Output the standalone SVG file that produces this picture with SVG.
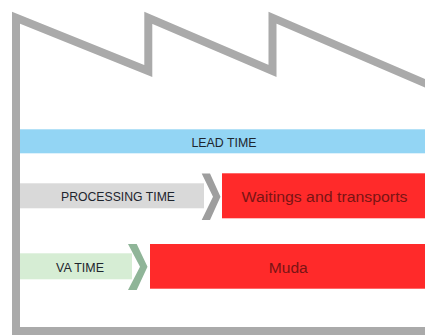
<svg xmlns="http://www.w3.org/2000/svg" width="425" height="335" viewBox="0 0 425 335">
  <style>
    .wall { fill: none; stroke: #aaaaaa; stroke-width: 8; stroke-linejoin: miter; stroke-miterlimit: 10; }
    .label { font-family: "Liberation Sans", Arial, sans-serif; text-anchor: middle; }
    .small { font-size: 13.5px; fill: #1e252e; }
    .big { font-size: 15.5px; fill: #7a1414; }
    .waste { fill: #ff2a2a; }
  </style>
  <rect width="425" height="335" fill="#ffffff"/>

  <!-- factory outline with saw-tooth roof -->
  <g id="factory">
    <path class="wall" d="M440,331 L16,331 L16,17.7 L148.3,71 L148.3,17.7 L272.5,71 L272.5,17.7 L440,89.7"/>
  </g>

  <!-- total lead time -->
  <g id="lead-time">
    <rect x="20" y="129.3" width="405" height="24" fill="#93d5f4"/>
    <text class="label small" x="224" y="146.5" textLength="65" lengthAdjust="spacingAndGlyphs">LEAD TIME</text>
  </g>

  <!-- processing time arrow -->
  <g id="processing-time">
    <rect x="20" y="183.3" width="184" height="25" fill="#d9d9d9"/>
    <polygon points="201.7,173.5 210,173.5 220.5,196.8 210,220 201.7,220 213,196.8" fill="#9e9e9e"/>
    <text class="label small" x="118" y="201" textLength="114" lengthAdjust="spacingAndGlyphs">PROCESSING TIME</text>
  </g>

  <!-- waitings and transports -->
  <g id="waitings">
    <rect class="waste" x="222" y="173.3" width="203" height="45"/>
    <text class="label big" x="324.5" y="201.7" textLength="166" lengthAdjust="spacingAndGlyphs">Waitings and transports</text>
  </g>

  <!-- value-added time arrow -->
  <g id="va-time">
    <rect x="20" y="253.3" width="112" height="26" fill="#d6edd4"/>
    <polygon points="128,244 136.7,244 147.5,266.8 136.7,290 128,290 140,266.8" fill="#8fb598"/>
    <text class="label small" x="80" y="271.7" textLength="48" lengthAdjust="spacingAndGlyphs">VA TIME</text>
  </g>

  <!-- muda -->
  <g id="muda">
    <rect class="waste" x="150" y="244" width="275" height="44.7"/>
    <text class="label big" x="288.3" y="272.7" textLength="39" lengthAdjust="spacingAndGlyphs">Muda</text>
  </g>
</svg>
